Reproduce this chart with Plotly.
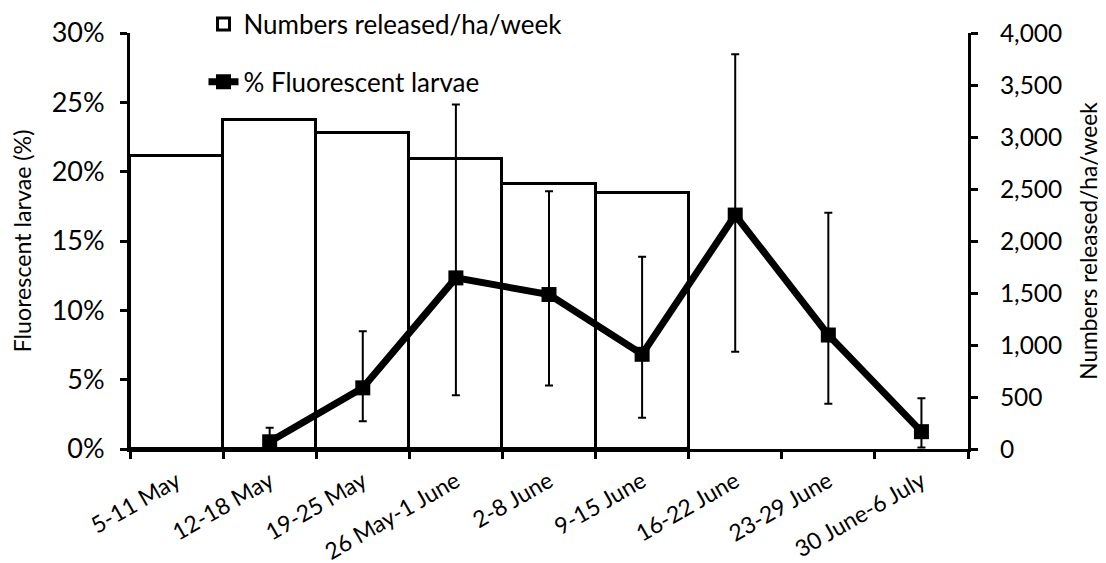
import plotly.graph_objects as go

categories = ["5-11 May", "12-18 May", "19-25 May", "26 May-1 June", "2-8 June",
              "9-15 June", "16-22 June", "23-29 June", "30 June-6 July"]

release_weeks = categories[:6]
numbers_released = [2815, 3168, 3040, 2784, 2550, 2466]

larvae_weeks = categories[1:]
pct_fluorescent = [0.52, 4.41, 12.34, 11.14, 6.83, 16.87, 8.22, 1.25]
pct_upper = [1.53, 8.5, 24.84, 18.59, 13.86, 28.46, 17.04, 3.66]
pct_lower = [0.0, 2.0, 3.88, 4.58, 2.26, 7.01, 3.27, 0.1]

err_plus = [u - v for u, v in zip(pct_upper, pct_fluorescent)]
err_minus = [v - l for v, l in zip(pct_fluorescent, pct_lower)]

FONT = "Lato"
fig = go.Figure()

fig.add_trace(go.Bar(
    x=release_weeks, y=numbers_released, name="Numbers released/ha/week",
    marker=dict(color="white", line=dict(color="black", width=3)),
    yaxis="y", legendgroup="a",
))

fig.add_trace(go.Scatter(
    x=larvae_weeks, y=pct_fluorescent, name="% Fluorescent larvae",
    mode="lines+markers",
    line=dict(color="black", width=7),
    marker=dict(symbol="square", size=15, color="black"),
    error_y=dict(type="data", symmetric=False, array=err_plus, arrayminus=err_minus,
                 color="black", thickness=2, width=4),
    yaxis="y2", legendgroup="b",
))

# page body has an 8px margin, so the figure is drawn 8px smaller and offset
W, H = 1098, 555
L, T = 122, 25
R = W - 960
B = H - 441.5

fig.update_layout(
    width=W, height=H,
    margin=dict(l=L, r=R, t=T, b=B, autoexpand=False),
    paper_bgcolor="white", plot_bgcolor="white",
    font=dict(family=FONT, size=22, color="black"),
    bargap=0,
    showlegend=True,
    legend=dict(x=0.0877, y=1.078, xanchor="left", yanchor="top",
                bgcolor="rgba(0,0,0,0)", font=dict(size=26),
                tracegroupgap=21, traceorder="grouped"),
    xaxis=dict(type="category", categoryorder="array", categoryarray=categories,
               range=[-0.5, 8.5], automargin=False,
               showline=True, linecolor="black", linewidth=3,
               ticks="outside", tickson="boundaries", ticklen=7, tickwidth=2.5,
               tickcolor="black", tickangle=-30, showgrid=False,
               ticklabelstandoff=7,
               tickfont=dict(size=23)),
    yaxis=dict(side="right", range=[0, 4000], dtick=500, tickformat=",",
               automargin=False,
               showline=True, linecolor="black", linewidth=3,
               ticks="outside", ticklen=7, tickwidth=2.5, tickcolor="black",
               showgrid=False, zeroline=False, ticklabelstandoff=17,
               title=dict(text="Numbers released/ha/week", standoff=20,
                          font=dict(size=22.7)),
               tickfont=dict(size=24.5)),
    yaxis2=dict(side="left", overlaying="y", range=[0, 30], dtick=5, ticksuffix="%",
                automargin=False,
                showline=True, linecolor="black", linewidth=3,
                ticks="outside", ticklen=7, tickwidth=2.5, tickcolor="black",
                showgrid=False, zeroline=False, ticklabelstandoff=10,
                title=dict(text="Fluorescent larvae (%)", standoff=22,
                           font=dict(size=23.2)),
                tickfont=dict(size=27)),
)

fig.write_html("out.html")
